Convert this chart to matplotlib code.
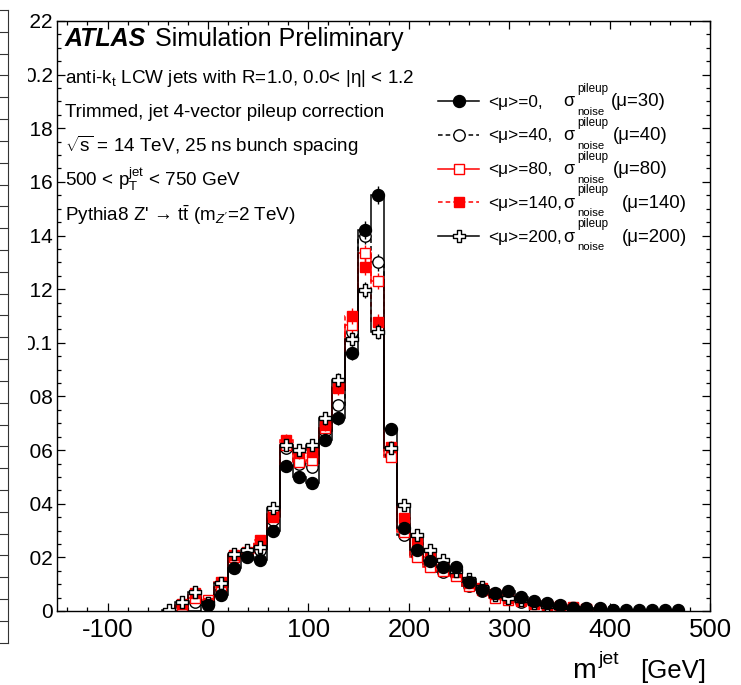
#!/usr/bin/env python3

import numpy
from matplotlib import pyplot
import matplotlib.lines
import matplotlib.patches
import matplotlib.path
import matplotlib.ticker


FIG_W, FIG_H = 741, 685
DPI = 100

# histogram binning: bin centres are multiples of BIN_WIDTH starting at FIRST_BIN
BIN_WIDTH = 13.0
FIRST_BIN = -3
N_BINS = 40

# normalised jet mass distributions, one value per bin
MU0 = [0, 0, 0, 0.0022, 0.0060, 0.0160, 0.0202, 0.0190, 0.0300, 0.0540,
	0.0500, 0.0477, 0.0638, 0.0718, 0.0963, 0.1420, 0.1550, 0.0680, 0.0310, 0.0227,
	0.0188, 0.0165, 0.0163, 0.0109, 0.0078, 0.0068, 0.0076, 0.0051, 0.0037, 0.0029,
	0.0022, 0.0012, 0.0012, 0.0012, 0.0004, 0.0004, 0.0005, 0.0003, 0.0004, 0.0005]
MU40 = [0, 0.0020, 0.0035, 0.0030, 0.0080, 0.0205, 0.0210, 0.0227, 0.0340, 0.0608,
	0.0550, 0.0538, 0.0670, 0.0768, 0.1040, 0.1400, 0.1300, 0.0580, 0.0283, 0.0210,
	0.0175, 0.0145, 0.0135, 0.0095, 0.0075, 0.0055, 0.0050, 0.0035, 0.0028, 0.0018,
	0.0015, 0.0010, 0.0008, 0.0006, 0.0003, 0, 0, 0, 0, 0]
MU80 = [0, 0.0020, 0.0050, 0.0040, 0.0090, 0.0200, 0.0215, 0.0250, 0.0360, 0.0620,
	0.0557, 0.0563, 0.0682, 0.0830, 0.1066, 0.1334, 0.1232, 0.0575, 0.0296, 0.0202,
	0.0165, 0.0150, 0.0130, 0.0095, 0.0080, 0.0050, 0.0040, 0.0040, 0.0025, 0.0020,
	0.0018, 0.0015, 0.0008, 0.0005, 0, 0, 0, 0, 0, 0]
MU140 = [0, 0.0025, 0.0066, 0.0030, 0.0109, 0.0209, 0.0221, 0.0265, 0.0352, 0.0638,
	0.0589, 0.0594, 0.0693, 0.0836, 0.1100, 0.1284, 0.1079, 0.0613, 0.0346, 0.0252,
	0.0200, 0.0170, 0.0145, 0.0105, 0.0085, 0.0065, 0.0050, 0.0038, 0.0030, 0.0022,
	0.0015, 0.0012, 0.0008, 0.0005, 0, 0, 0, 0, 0, 0]
MU200 = [0.0005, 0.0035, 0.0070, 0.0030, 0.0103, 0.0212, 0.0227, 0.0240, 0.0383, 0.0619,
	0.0600, 0.0619, 0.0718, 0.0861, 0.1014, 0.1197, 0.1042, 0.0608, 0.0395, 0.0283,
	0.0227, 0.0190, 0.0150, 0.0120, 0.0090, 0.0060, 0.0050, 0.0040, 0.0030, 0.0020,
	0.0015, 0.0010, 0.0006, 0.0004, 0, 0, 0, 0, 0, 0]

# statistical uncertainty scale (err = ERR_SCALE * sqrt(value))
ERR_SCALE = 0.0086

# legend: "<mu>=N, sigma^pileup_noise(mu=M)"
MU_AVG = ["0", "40", "80", "140", "200"]
MU_NOISE = ["30", "40", "80", "140", "200"]

INFO_LINES = [
	r"anti-$\mathrm{k}_{\rm t}$ LCW jets with R=1.0, 0.0< |η| < 1.2",
	"Trimmed, jet 4-vector pileup correction",
	r"$\sqrt{\mathrm{s}}$ = 14 TeV, 25 ns bunch spacing",
	r"500 < $\mathrm{p}_{\rm T}^{\rm jet}$ < 750 GeV",
	r"Pythia8 Z' → t$\bar{\mathrm{t}}$ (${\rm m}_{Z'}$=2 TeV)",
]

XLIM = (-150, 500)
YLIM = (0, 0.22)

# open cross, like ROOT marker 28
_w = 0.33
OPEN_CROSS = matplotlib.path.Path([
	(-_w, 1), (_w, 1), (_w, _w), (1, _w), (1, -_w), (_w, -_w), (_w, -1),
	(-_w, -1), (-_w, -_w), (-1, -_w), (-1, _w), (-_w, _w), (-_w, 1)], closed = True)

RED = "#FF0000"
DASH = (0, (3.0, 2.0))
STYLES = [
	dict(color = "black", ls = "-", marker = "o", ms = 8.6, mfc = "black"),
	dict(color = "black", ls = DASH, marker = "o", ms = 8.2, mfc = "white"),
	dict(color = RED, ls = "-", marker = "s", ms = 7.6, mfc = "white"),
	dict(color = RED, ls = DASH, marker = "s", ms = 7.2, mfc = RED),
	dict(color = "black", ls = "-", marker = OPEN_CROSS, ms = 9.0, mfc = "white"),
]
DRAW_ORDER = [1, 2, 3, 4, 0]


def fig_xy(x, y):
	# pixel position (origin top-left) to figure fraction
	return x / FIG_W, 1.0 - y / FIG_H


def px_text(fig, x, y, s, **kw):
	fx, fy = fig_xy(x, y)
	kw.setdefault("ha", "left")
	kw.setdefault("va", "baseline")
	return fig.text(fx, fy, s, **kw)


def setup_style():
	pyplot.rcParams["font.family"] = ["Liberation Sans", "DejaVu Sans"]
	pyplot.rcParams["mathtext.fontset"] = "custom"
	pyplot.rcParams["mathtext.rm"] = "Liberation Sans"
	pyplot.rcParams["mathtext.it"] = "Liberation Sans:italic"
	pyplot.rcParams["mathtext.bf"] = "Liberation Sans:bold"
	pyplot.rcParams["mathtext.sf"] = "Liberation Sans"
	pyplot.rcParams["axes.unicode_minus"] = False


def plot_series(ax, centers, edges, values, style):
	y = numpy.asarray(values, dtype = float)
	ax.stairs(y, edges, baseline = 0, color = style["color"],
		linestyle = style["ls"], linewidth = 1.1)
	show = y > 0
	err = ERR_SCALE * numpy.sqrt(y[show])
	ax.errorbar(centers[show], y[show], yerr = err, fmt = "none",
		ecolor = style["color"], elinewidth = 1.0, capsize = 0)
	ax.plot(centers[show], y[show], linestyle = "none", marker = style["marker"],
		markersize = style["ms"], markerfacecolor = style["mfc"],
		markeredgecolor = style["color"], markeredgewidth = 1.0)


def draw_legend(fig):
	# ROOT-like layout: sigma carries a stacked super/subscript
	paren_x = [610.5, 612.5, 612.5, 621.5, 621.5]
	for i, style in enumerate(STYLES):
		yc = 101 + 33.8 * i
		x0, y0 = fig_xy(438, yc)
		x1, _ = fig_xy(479, yc)
		xm, _ = fig_xy(458.5, yc)
		fig.add_artist(matplotlib.lines.Line2D([x0, x1], [y0, y0],
			color = style["color"], linestyle = style["ls"], linewidth = 1.1))
		fig.add_artist(matplotlib.lines.Line2D([xm], [y0], linestyle = "none",
			marker = style["marker"], markersize = style["ms"],
			markerfacecolor = style["mfc"], markeredgecolor = style["color"],
			markeredgewidth = 1.0))
		base = yc + 5.5
		px_text(fig, 488, base, "<μ>=%s," % MU_AVG[i], fontsize = 12.4)
		px_text(fig, 563.5, base, "σ", fontsize = 13.0)
		px_text(fig, 577, base - 14.5, "pileup", fontsize = 8.4)
		px_text(fig, 577, base + 8.5, "noise", fontsize = 8.2)
		px_text(fig, paren_x[i], base, "(μ=%s)" % MU_NOISE[i], fontsize = 13.4)


def draw_labels(fig):
	px_text(fig, 65, 46, "ATLAS", fontsize = 18, fontweight = "bold", fontstyle = "italic")
	px_text(fig, 155, 46, "Simulation Preliminary", fontsize = 18)
	for i, line in enumerate(INFO_LINES):
		px_text(fig, 65, 83 + 34.4 * i, line, fontsize = 13.6)
	# x axis title
	px_text(fig, 572, 678, "m", fontsize = 20.5)
	px_text(fig, 598.5, 664, "jet", fontsize = 14)
	px_text(fig, 706, 678, "[GeV]", fontsize = 18.5, ha = "right")


def draw_side_strip(fig):
	# white margin hiding the clipped part of the y labels, and the edge of a
	# neighbouring panel
	x1, _ = fig_xy(28, 0)
	fig.add_artist(matplotlib.patches.Rectangle((0, 0), x1, 1,
		transform = fig.transFigure, facecolor = "white", edgecolor = "none", zorder = 5))
	top, bottom, right = 10.0, 642.7, 8.3
	xa, ya = fig_xy(right, top)
	_, yb = fig_xy(right, bottom)
	fig.add_artist(matplotlib.lines.Line2D([xa, xa], [ya, yb], color = "#333333",
		linewidth = 0.8, zorder = 6))
	for yy in numpy.linspace(top, bottom, 30):
		_, yf = fig_xy(0, yy)
		fig.add_artist(matplotlib.lines.Line2D([0, xa], [yf, yf], color = "#333333",
			linewidth = 0.8, zorder = 6))


def hdl_plot():
	setup_style()
	fig = pyplot.figure(figsize = (FIG_W / DPI, FIG_H / DPI), dpi = DPI)
	left, top = fig_xy(57.3, 21)
	right, bottom = fig_xy(710, 611)
	ax = fig.add_axes([left, bottom, right - left, top - bottom])

	idx = numpy.arange(FIRST_BIN, FIRST_BIN + N_BINS)
	centers = idx * BIN_WIDTH
	edges = numpy.append(centers - BIN_WIDTH / 2, centers[-1] + BIN_WIDTH / 2)
	series = [MU0, MU40, MU80, MU140, MU200]
	for i in DRAW_ORDER:
		plot_series(ax, centers, edges, series[i], STYLES[i])

	ax.set_xlim(*XLIM)
	ax.set_ylim(*YLIM)
	ax.xaxis.set_major_locator(matplotlib.ticker.MultipleLocator(100))
	ax.xaxis.set_minor_locator(matplotlib.ticker.MultipleLocator(20))
	ax.yaxis.set_major_locator(matplotlib.ticker.MultipleLocator(0.02))
	ax.yaxis.set_minor_locator(matplotlib.ticker.MultipleLocator(0.005))
	ax.yaxis.set_major_formatter(matplotlib.ticker.FuncFormatter(lambda v, p: "%g" % round(v, 3)))
	ax.tick_params(which = "both", direction = "in", top = True, right = True, width = 0.9)
	ax.tick_params(which = "major", length = 5.5)
	ax.tick_params(which = "minor", length = 2.6)
	ax.tick_params(axis = "x", labelsize = 18.5, pad = 5)
	ax.tick_params(axis = "y", labelsize = 15, pad = 3.3)
	for sp in ax.spines.values():
		sp.set_linewidth(1.0)

	draw_labels(fig)
	draw_legend(fig)
	draw_side_strip(fig)
	return fig


if __name__ == "__main__":
	fig = hdl_plot()
	fig.savefig("out.png", dpi = DPI)
	pyplot.close()
